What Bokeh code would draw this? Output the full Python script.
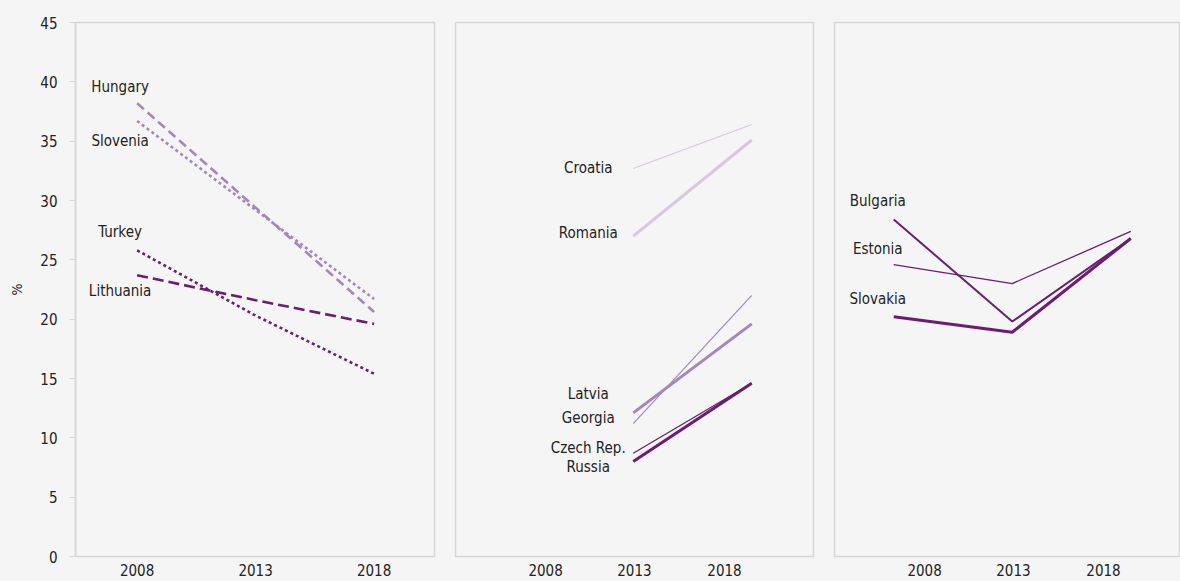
from bokeh.plotting import figure
from bokeh.models import Range1d, FixedTicker, ColumnDataSource
from bokeh.layouts import row
from bokeh.core.properties import value
from bokeh.embed import file_html
from bokeh.resources import INLINE

# ---------------- data ----------------
years = [2008, 2013, 2018]
years_mid = [2013, 2018]
year_labels = ["2008", "2013", "2018"]
y_ticks = [0, 5, 10, 15, 20, 25, 30, 35, 40, 45]

# panel 1
left_names = ["Hungary", "Slovenia", "Turkey", "Lithuania"]
hungary = [38.2, 29.4, 20.6]
slovenia = [36.7, 29.2, 21.7]
turkey = [25.8, 20.3, 15.4]
lithuania = [23.7, 21.6, 19.6]

# panel 2
mid_names = ["Croatia", "Romania", "Latvia", "Georgia", "Czech Rep.", "Russia"]
croatia = [32.7, 36.4]
romania = [27.0, 35.1]
latvia = [12.1, 19.6]
georgia = [11.2, 22.0]
czech = [8.7, 14.6]
russia = [8.0, 14.6]

# panel 3
right_names = ["Bulgaria", "Estonia", "Slovakia"]
bulgaria = [28.4, 19.8, 26.8]
estonia = [24.6, 23.0, 27.4]
slovakia = [20.2, 18.9, 26.8]

# ---------------- styles ----------------
FONT = "DejaVu Sans Condensed"
BG = "#f5f5f5"
BORDER = "#d6d6d6"
DARK = "#6b1d6f"
MED = "#a287bd"
LIGHT = "#d8c7e1"
TXT = "#222222"
PX_PER_YEAR = 23.7
H = 581
BT, BB = 22, 25


def make_fig(width, bl, br, show_y, tick_pos, x0):
    frame_w = width - bl - br
    p = figure(width=width, height=H, output_backend="svg", toolbar_location=None,
               x_range=Range1d(x0, x0 + frame_w / PX_PER_YEAR), y_range=Range1d(0, 45),
               min_border_left=bl, min_border_right=br, min_border_top=BT,
               min_border_bottom=BB, y_axis_location="left" if show_y else None)
    p.background_fill_color = BG
    p.border_fill_color = BG
    p.outline_line_color = BORDER
    p.outline_line_width = 1.5
    p.grid.visible = False
    xa = p.xaxis[0]
    xa.ticker = FixedTicker(ticks=tick_pos)
    xa.major_label_overrides = {t: l for t, l in zip(tick_pos, year_labels)}
    xa.axis_line_color = None
    xa.major_tick_line_color = None
    xa.minor_tick_line_color = None
    xa.major_tick_out = 0
    xa.major_tick_in = 0
    xa.major_label_standoff = 7
    xa.major_label_text_font = FONT
    xa.major_label_text_font_size = "15px"
    xa.major_label_text_color = TXT
    if show_y:
        ya = p.yaxis[0]
        ya.ticker = FixedTicker(ticks=y_ticks)
        ya.axis_line_color = BORDER
        ya.axis_line_width = 1.5
        ya.major_tick_line_color = BORDER
        ya.major_tick_out = 6
        ya.major_tick_in = 0
        ya.minor_tick_line_color = None
        ya.major_label_standoff = 12
        ya.major_label_text_font = FONT
        ya.major_label_text_font_size = "15px"
        ya.major_label_text_color = TXT
        ya.axis_label = "%"
        ya.axis_label_text_font = FONT
        ya.axis_label_text_font_style = "normal"
        ya.axis_label_text_font_size = "14px"
        ya.axis_label_text_color = TXT
        ya.axis_label_standoff = 12
    return p


def add_labels(p, xs, ys, names, dx, dys):
    src = ColumnDataSource(dict(x=xs, y=ys, t=names, dx=[dx] * len(names), dy=dys))
    p.text(x="x", y="y", text="t", x_offset="dx", y_offset="dy", source=src,
           text_align="center", text_baseline="middle", text_font=value(FONT),
           text_font_size="15px", text_color=TXT)


# ---------------- panel 1 ----------------
p1 = make_fig(444, 75, 10, True, years, 2005.4)
p1.line(years, hungary, line_color=MED, line_width=2.6, line_dash="9 5")
p1.line(years, slovenia, line_color=MED, line_width=2.6, line_dash="3 3")
p1.line(years, turkey, line_color=DARK, line_width=2.6, line_dash="3 3")
p1.line(years, lithuania, line_color=DARK, line_width=2.6, line_dash="11 5")
add_labels(p1, [years[0]] * 4, [hungary[0], slovenia[0], turkey[0], lithuania[0]],
           left_names, -17, [-16, 20, -18, 16])

# ---------------- panel 2 ----------------
mid_ticks = [2009.3, 2013.05, 2016.85]
p2 = make_fig(379, 11, 10, False, mid_ticks, 2005.5)
p2.line(years_mid, croatia, line_color=LIGHT, line_width=1.2)
p2.line(years_mid, romania, line_color=LIGHT, line_width=3)
p2.line(years_mid, latvia, line_color=MED, line_width=3)
p2.line(years_mid, georgia, line_color=MED, line_width=1.2)
p2.line(years_mid, czech, line_color=DARK, line_width=1.3)
p2.line(years_mid, russia, line_color=DARK, line_width=3)
add_labels(p2, [years_mid[0]] * 6,
           [croatia[0], romania[0], latvia[0], georgia[0], czech[0], russia[0]],
           mid_names, -45, [0, -3, -19, -6, -5, 5])

# ---------------- panel 3 ----------------
p3 = make_fig(357, 11, 0, False, mid_ticks, 2005.5)
p3.line(years, bulgaria, line_color=DARK, line_width=2)
p3.line(years, estonia, line_color=DARK, line_width=1.3)
p3.line(years, slovakia, line_color=DARK, line_width=3)
add_labels(p3, [years[0]] * 3, [bulgaria[0], estonia[0], slovakia[0]],
           right_names, -16, [-18, -16, -18])

layout = row(p1, p2, p3, spacing=0)
layout.styles = {"background-color": BG}
open("out.html", "w").write(file_html(layout, INLINE))
